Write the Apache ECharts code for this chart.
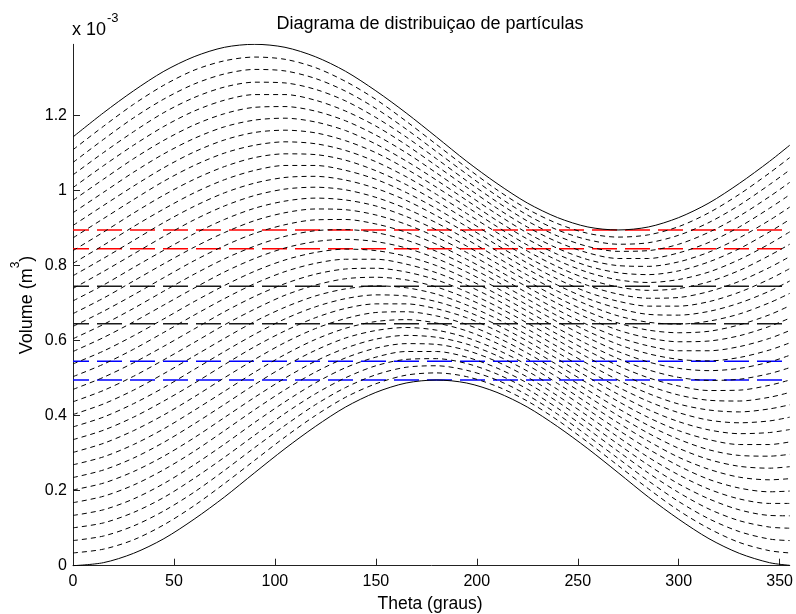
<!DOCTYPE html>
<html>
<head>
<meta charset="utf-8">
<title>Diagrama de distribuiçao de partículas</title>
<script src="https://cdn.jsdelivr.net/npm/echarts@6/dist/echarts.min.js"></script>
<style>
  html, body { margin: 0; padding: 0; background: #ffffff; }
  #chart { width: 796px; height: 614px; }
</style>
</head>
<body>
<div id="chart"></div>
<script>
// Angle samples (degrees) shared by every curve
const thetaDeg = [0, 15, 30, 45, 60, 75, 90, 105, 120, 135, 150, 165, 180,
                  195, 210, 225, 240, 255, 270, 285, 300, 315, 330, 345, 355];

// Volumes in units of 1e-3 m^3
const upperBound = [1.143, 1.207, 1.266, 1.318, 1.357, 1.382, 1.390, 1.382, 1.357, 1.318, 1.266, 1.207, 1.143,
                    1.078, 1.019, 0.967, 0.928, 0.903, 0.895, 0.903, 0.928, 0.967, 1.019, 1.078, 1.121];
const lowerBound = [0.000, 0.008, 0.033, 0.072, 0.124, 0.183, 0.248, 0.312, 0.371, 0.423, 0.462, 0.487, 0.495,
                    0.487, 0.462, 0.423, 0.371, 0.312, 0.248, 0.183, 0.124, 0.072, 0.033, 0.008, 0.001];

// Intermediate particle layers, from the lowest to the highest
const layerCurves = [
  [0.034, 0.044, 0.069, 0.109, 0.160, 0.219, 0.281, 0.343, 0.400, 0.449, 0.485, 0.508, 0.514, 0.504, 0.478, 0.439, 0.388, 0.329, 0.267, 0.205, 0.147, 0.099, 0.062, 0.040, 0.034],
  [0.067, 0.079, 0.106, 0.146, 0.196, 0.254, 0.315, 0.374, 0.429, 0.475, 0.509, 0.529, 0.533, 0.521, 0.495, 0.455, 0.404, 0.346, 0.286, 0.226, 0.171, 0.125, 0.091, 0.071, 0.067],
  [0.101, 0.114, 0.142, 0.182, 0.233, 0.289, 0.348, 0.406, 0.458, 0.501, 0.533, 0.550, 0.552, 0.539, 0.511, 0.471, 0.420, 0.364, 0.305, 0.247, 0.195, 0.151, 0.120, 0.103, 0.100],
  [0.134, 0.149, 0.178, 0.219, 0.269, 0.324, 0.382, 0.437, 0.487, 0.528, 0.556, 0.571, 0.571, 0.556, 0.527, 0.487, 0.437, 0.381, 0.324, 0.268, 0.218, 0.178, 0.149, 0.134, 0.133],
  [0.168, 0.185, 0.215, 0.256, 0.305, 0.360, 0.416, 0.469, 0.516, 0.554, 0.580, 0.592, 0.590, 0.574, 0.544, 0.503, 0.453, 0.399, 0.343, 0.289, 0.242, 0.204, 0.178, 0.166, 0.166],
  [0.202, 0.220, 0.251, 0.292, 0.341, 0.395, 0.449, 0.500, 0.545, 0.580, 0.604, 0.614, 0.609, 0.591, 0.560, 0.519, 0.470, 0.416, 0.362, 0.311, 0.266, 0.230, 0.207, 0.197, 0.199],
  [0.235, 0.255, 0.287, 0.329, 0.378, 0.430, 0.483, 0.532, 0.574, 0.607, 0.627, 0.635, 0.628, 0.608, 0.576, 0.535, 0.486, 0.433, 0.381, 0.332, 0.289, 0.257, 0.236, 0.229, 0.232],
  [0.269, 0.290, 0.323, 0.365, 0.414, 0.465, 0.516, 0.563, 0.603, 0.633, 0.651, 0.656, 0.647, 0.626, 0.593, 0.551, 0.502, 0.451, 0.400, 0.353, 0.313, 0.283, 0.265, 0.260, 0.264],
  [0.302, 0.326, 0.360, 0.402, 0.450, 0.501, 0.550, 0.595, 0.632, 0.659, 0.675, 0.677, 0.666, 0.643, 0.609, 0.567, 0.519, 0.468, 0.419, 0.374, 0.337, 0.309, 0.294, 0.292, 0.297],
  [0.336, 0.361, 0.396, 0.439, 0.486, 0.536, 0.584, 0.626, 0.661, 0.686, 0.698, 0.698, 0.685, 0.661, 0.626, 0.583, 0.535, 0.486, 0.438, 0.395, 0.360, 0.336, 0.323, 0.323, 0.330],
  [0.370, 0.396, 0.432, 0.475, 0.523, 0.571, 0.617, 0.658, 0.690, 0.712, 0.722, 0.719, 0.704, 0.678, 0.642, 0.599, 0.551, 0.503, 0.457, 0.416, 0.384, 0.362, 0.352, 0.355, 0.363],
  [0.403, 0.431, 0.468, 0.512, 0.559, 0.606, 0.651, 0.689, 0.719, 0.738, 0.746, 0.741, 0.724, 0.695, 0.658, 0.615, 0.568, 0.520, 0.476, 0.438, 0.408, 0.388, 0.381, 0.386, 0.396],
  [0.437, 0.467, 0.505, 0.549, 0.595, 0.642, 0.684, 0.721, 0.748, 0.765, 0.769, 0.762, 0.743, 0.713, 0.675, 0.631, 0.584, 0.538, 0.495, 0.459, 0.431, 0.415, 0.410, 0.418, 0.429],
  [0.470, 0.502, 0.541, 0.585, 0.631, 0.677, 0.718, 0.752, 0.777, 0.791, 0.793, 0.783, 0.762, 0.730, 0.691, 0.647, 0.601, 0.555, 0.514, 0.480, 0.455, 0.441, 0.439, 0.449, 0.462],
  [0.504, 0.537, 0.577, 0.622, 0.668, 0.712, 0.752, 0.784, 0.806, 0.817, 0.817, 0.804, 0.781, 0.748, 0.708, 0.663, 0.617, 0.573, 0.533, 0.501, 0.479, 0.467, 0.468, 0.481, 0.495],
  [0.538, 0.572, 0.613, 0.658, 0.704, 0.747, 0.785, 0.815, 0.835, 0.844, 0.840, 0.825, 0.800, 0.765, 0.724, 0.679, 0.633, 0.590, 0.552, 0.522, 0.502, 0.494, 0.497, 0.512, 0.528],
  [0.571, 0.608, 0.650, 0.695, 0.740, 0.783, 0.819, 0.847, 0.864, 0.870, 0.864, 0.847, 0.819, 0.783, 0.740, 0.695, 0.650, 0.608, 0.571, 0.543, 0.526, 0.520, 0.526, 0.543, 0.561],
  [0.605, 0.643, 0.686, 0.732, 0.777, 0.818, 0.852, 0.878, 0.893, 0.896, 0.888, 0.868, 0.838, 0.800, 0.757, 0.711, 0.666, 0.625, 0.590, 0.565, 0.550, 0.546, 0.555, 0.575, 0.594],
  [0.638, 0.678, 0.722, 0.768, 0.813, 0.853, 0.886, 0.909, 0.922, 0.923, 0.911, 0.889, 0.857, 0.817, 0.773, 0.727, 0.682, 0.642, 0.609, 0.586, 0.573, 0.573, 0.584, 0.606, 0.627],
  [0.672, 0.713, 0.759, 0.805, 0.849, 0.888, 0.920, 0.941, 0.951, 0.949, 0.935, 0.910, 0.876, 0.835, 0.789, 0.743, 0.699, 0.660, 0.628, 0.607, 0.597, 0.599, 0.613, 0.638, 0.660],
  [0.706, 0.748, 0.795, 0.841, 0.885, 0.923, 0.953, 0.972, 0.980, 0.975, 0.959, 0.931, 0.895, 0.852, 0.806, 0.759, 0.715, 0.677, 0.647, 0.628, 0.621, 0.625, 0.642, 0.669, 0.693],
  [0.739, 0.784, 0.831, 0.878, 0.922, 0.959, 0.987, 1.004, 1.009, 1.002, 0.982, 0.952, 0.914, 0.870, 0.822, 0.775, 0.732, 0.695, 0.666, 0.649, 0.644, 0.652, 0.671, 0.701, 0.726],
  [0.773, 0.819, 0.867, 0.915, 0.958, 0.994, 1.020, 1.035, 1.038, 1.028, 1.006, 0.974, 0.933, 0.887, 0.839, 0.791, 0.748, 0.712, 0.686, 0.670, 0.668, 0.678, 0.700, 0.732, 0.759],
  [0.806, 0.854, 0.904, 0.951, 0.994, 1.029, 1.054, 1.067, 1.067, 1.054, 1.030, 0.995, 0.952, 0.904, 0.855, 0.807, 0.764, 0.729, 0.705, 0.692, 0.692, 0.704, 0.729, 0.764, 0.792],
  [0.840, 0.889, 0.940, 0.988, 1.030, 1.064, 1.088, 1.098, 1.096, 1.081, 1.053, 1.016, 0.971, 0.922, 0.871, 0.823, 0.781, 0.747, 0.724, 0.713, 0.715, 0.731, 0.758, 0.795, 0.824],
  [0.874, 0.925, 0.976, 1.025, 1.067, 1.100, 1.121, 1.130, 1.125, 1.107, 1.077, 1.037, 0.990, 0.939, 0.888, 0.839, 0.797, 0.764, 0.743, 0.734, 0.739, 0.757, 0.787, 0.827, 0.857],
  [0.907, 0.960, 1.012, 1.061, 1.103, 1.135, 1.155, 1.161, 1.154, 1.133, 1.101, 1.058, 1.009, 0.957, 0.904, 0.855, 0.814, 0.782, 0.762, 0.755, 0.763, 0.783, 0.816, 0.858, 0.890],
  [0.941, 0.995, 1.049, 1.098, 1.139, 1.170, 1.188, 1.193, 1.183, 1.160, 1.124, 1.079, 1.028, 0.974, 0.920, 0.871, 0.830, 0.799, 0.781, 0.776, 0.786, 0.810, 0.845, 0.890, 0.923],
  [0.974, 1.030, 1.085, 1.134, 1.175, 1.205, 1.222, 1.224, 1.212, 1.186, 1.148, 1.101, 1.047, 0.991, 0.937, 0.887, 0.846, 0.816, 0.800, 0.798, 0.810, 0.836, 0.874, 0.921, 0.956],
  [1.008, 1.066, 1.121, 1.171, 1.212, 1.241, 1.256, 1.256, 1.241, 1.212, 1.172, 1.122, 1.066, 1.009, 0.953, 0.903, 0.863, 0.834, 0.819, 0.819, 0.834, 0.862, 0.903, 0.953, 0.989],
  [1.042, 1.101, 1.157, 1.208, 1.248, 1.276, 1.289, 1.287, 1.270, 1.239, 1.195, 1.143, 1.085, 1.026, 0.970, 0.919, 0.879, 0.851, 0.838, 0.840, 0.857, 0.889, 0.932, 0.984, 1.022],
  [1.075, 1.136, 1.194, 1.244, 1.284, 1.311, 1.323, 1.319, 1.299, 1.265, 1.219, 1.164, 1.104, 1.044, 0.986, 0.935, 0.895, 0.869, 0.857, 0.861, 0.881, 0.915, 0.961, 1.016, 1.055],
  [1.109, 1.171, 1.230, 1.281, 1.321, 1.346, 1.356, 1.350, 1.328, 1.291, 1.243, 1.185, 1.123, 1.061, 1.002, 0.951, 0.912, 0.886, 0.876, 0.882, 0.904, 0.941, 0.990, 1.047, 1.088]
];

// Constant reference volumes (1e-3 m^3)
const levelValues = [0.895, 0.845, 0.745, 0.645, 0.545, 0.495];

// Axis ticks
const xTicks = [0, 50, 100, 150, 200, 250, 300, 350];
const yTicks = [0, 0.2, 0.4, 0.6, 0.8, 1, 1.2];

const X_MAX = 355;
const Y_MAX = 1.39;
const FONT = '"Liberation Sans", Arial, Helvetica, sans-serif';
const levelColors = ['#ff0000', '#ff0000', '#1a1a1a', '#1a1a1a', '#0000ff', '#0000ff'];

function pairUp(values) {
  return thetaDeg.map((t, i) => [t, values[i]]);
}

const series = [];

levelValues.forEach((v, i) => {
  series.push({
    type: 'line',
    data: [[0, v], [X_MAX, v]],
    showSymbol: false,
    silent: true,
    lineStyle: { color: levelColors[i], width: 1.5, type: [25, 8], dashOffset: 9 },
    z: 2
  });
});

layerCurves.forEach((c) => {
  series.push({
    type: 'line',
    data: pairUp(c),
    showSymbol: false,
    smooth: 0.3,
    silent: true,
    lineStyle: { color: '#000000', width: 1, type: [5, 4] },
    z: 3
  });
});

[upperBound, lowerBound].forEach((c) => {
  series.push({
    type: 'line',
    data: pairUp(c),
    showSymbol: false,
    smooth: 0.3,
    silent: true,
    lineStyle: { color: '#000000', width: 1, type: 'solid' },
    z: 4
  });
});

const chart = echarts.init(document.getElementById('chart'), null, { renderer: 'canvas' });

chart.setOption({
  animation: false,
  backgroundColor: '#ffffff',
  grid: { left: 73, right: 5.5, top: 44.3, bottom: 48.3, containLabel: false },
  xAxis: {
    type: 'value',
    min: 0,
    max: X_MAX,
    interval: 50,
    axisLine: { lineStyle: { color: '#222222', width: 1 } },
    axisTick: { inside: true, length: 7, lineStyle: { color: '#222222' }, customValues: xTicks },
    axisLabel: { color: '#000000', fontSize: 16, fontFamily: FONT, margin: 8, customValues: xTicks },
    splitLine: { show: false }
  },
  yAxis: {
    type: 'value',
    min: 0,
    max: Y_MAX,
    interval: 0.2,
    axisLine: { show: true, lineStyle: { color: '#222222', width: 1 } },
    axisTick: { show: true, inside: true, length: 7, lineStyle: { color: '#222222' }, customValues: yTicks },
    axisLabel: {
      color: '#000000', fontSize: 16, fontFamily: FONT, margin: 6, customValues: yTicks,
      formatter: (v) => String(Math.round(v * 10) / 10)
    },
    splitLine: { show: false }
  },
  graphic: [
    {
      type: 'text', x: 430, y: 24,
      style: { text: 'Diagrama de distribuiçao de partículas', font: '18px ' + FONT, fill: '#000', align: 'center', verticalAlign: 'middle' }
    },
    {
      type: 'text', x: 72, y: 30,
      style: { text: 'x 10', font: '18px ' + FONT, fill: '#000', align: 'left', verticalAlign: 'middle' }
    },
    {
      type: 'text', x: 107, y: 18,
      style: { text: '-3', font: '13px ' + FONT, fill: '#000', align: 'left', verticalAlign: 'middle' }
    },
    {
      type: 'text', x: 430, y: 604,
      style: { text: 'Theta (graus)', font: '17.5px ' + FONT, fill: '#000', align: 'center', verticalAlign: 'middle' }
    },
    {
      type: 'text', x: 23, y: 305, rotation: Math.PI / 2,
      style: {
        text: '{m|Volume (m}{s|3}{m|)}',
        fill: '#000', align: 'center', verticalAlign: 'middle',
        rich: {
          m: { fontSize: 18, fontFamily: FONT, lineHeight: 26, verticalAlign: 'bottom', fill: '#000' },
          s: { fontSize: 12, fontFamily: FONT, verticalAlign: 'top', fill: '#000' }
        }
      }
    }
  ],
  series: series
});
</script>
</body>
</html>
